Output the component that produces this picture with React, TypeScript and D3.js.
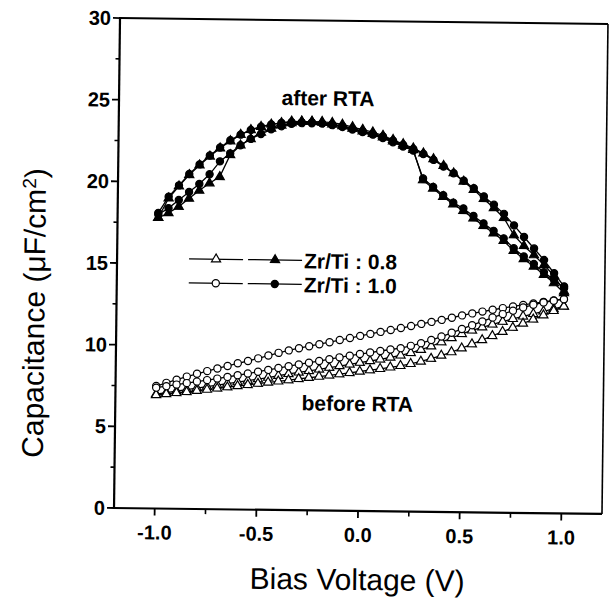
import React from 'react';
import * as d3 from 'd3';

// Bias voltage sweep points (V)
const voltage = [
  -1.0, -0.95, -0.9, -0.85, -0.8, -0.75, -0.7, -0.65, -0.6, -0.55, -0.5,
  -0.45, -0.4, -0.35, -0.3, -0.25, -0.2, -0.15, -0.1, -0.05, 0.0,
  0.05, 0.1, 0.15, 0.2, 0.25, 0.3, 0.35, 0.4, 0.45, 0.5,
  0.55, 0.6, 0.65, 0.7, 0.75, 0.8, 0.85, 0.9, 0.95, 1.0,
];

// before RTA, Zr/Ti 0.8 (open triangles)
const before08A = [
  7.0, 7.1, 7.2, 7.3, 7.4, 7.5, 7.6, 7.7, 7.8, 7.9, 8.0,
  8.1, 8.22, 8.34, 8.44, 8.54, 8.64, 8.75, 8.86, 8.97, 9.08,
  9.19, 9.3, 9.42, 9.56, 9.72, 9.92, 10.14, 10.4, 10.66, 10.92,
  11.14, 11.34, 11.52, 11.7, 11.88, 12.04, 12.2, 12.36, 12.52, 12.68,
];
const before08B = [
  6.95, 7.02, 7.09, 7.16, 7.24, 7.32, 7.4, 7.48, 7.56, 7.64, 7.72,
  7.8, 7.88, 7.96, 8.04, 8.12, 8.2, 8.28, 8.36, 8.45, 8.54,
  8.63, 8.72, 8.82, 8.92, 9.05, 9.2, 9.38, 9.58, 9.8, 10.04,
  10.3, 10.56, 10.82, 11.08, 11.34, 11.6, 11.86, 12.12, 12.4, 12.68,
];
// before RTA, Zr/Ti 1.0 (open circles)
const before10A = [
  7.5, 7.7, 7.9, 8.1, 8.28, 8.45, 8.62, 8.78, 8.95, 9.1, 9.27,
  9.45, 9.62, 9.78, 9.92, 10.05, 10.18, 10.31, 10.45, 10.58, 10.72,
  10.85, 10.98, 11.1, 11.23, 11.36, 11.5, 11.63, 11.76, 11.9, 12.05,
  12.18, 12.3, 12.42, 12.53, 12.64, 12.74, 12.84, 12.94, 13.04, 13.12,
];
const before10B = [
  7.4, 7.5, 7.6, 7.7, 7.8, 7.9, 8.0, 8.11, 8.22, 8.33, 8.45,
  8.57, 8.69, 8.81, 8.93, 9.04, 9.15, 9.27, 9.39, 9.5, 9.61,
  9.71, 9.81, 9.91, 10.0, 10.15, 10.32, 10.52, 10.74, 10.98, 11.22,
  11.46, 11.7, 11.94, 12.16, 12.38, 12.58, 12.76, 12.9, 13.02, 13.12,
];

// after RTA, Zr/Ti 0.8 (filled triangles)
const after08Fwd = [
  17.8, 18.1, 18.5, 19.0, 19.5, 19.95, 20.35, 21.7, 22.3, 22.7, 23.1,
  23.35, 23.55, 23.7, 23.8, 23.8, 23.8, 23.75, 23.65, 23.5, 23.35,
  23.2, 23.0, 22.75, 22.5, 22.25, 21.95, 21.6, 21.2, 20.75, 20.25,
  19.75, 19.2, 18.65, 18.05, 17.0, 16.35, 15.8, 15.2, 14.55, 13.6,
];
const after08Rev = [
  17.8, 19.0, 19.75, 20.45, 21.05, 21.6, 22.1, 22.55, 22.95, 23.25, 23.45,
  23.6, 23.7, 23.8, 23.8, 23.8, 23.75, 23.65, 23.55, 23.4, 23.25,
  23.1, 22.9, 22.65, 22.4, 22.15, 20.3, 19.8, 19.3, 18.85, 18.45,
  18.0, 17.55, 17.1, 16.65, 16.05, 15.55, 15.1, 14.6, 14.1, 13.5,
];
// after RTA, Zr/Ti 1.0 (filled circles)
const after10Fwd = [
  18.0, 18.4, 18.9, 19.4, 19.9, 20.5, 21.3, 21.8, 22.3, 22.7, 23.0,
  23.3, 23.5, 23.65, 23.7, 23.7, 23.7, 23.65, 23.55, 23.4, 23.25,
  23.1, 22.95, 22.7, 22.45, 22.2, 21.9, 21.55, 21.15, 20.75, 20.3,
  19.85, 19.35, 18.85, 18.3, 17.6, 16.9, 16.2, 15.5, 14.7, 13.9,
];
const after10Rev = [
  18.1, 19.1, 19.8, 20.5, 21.1, 21.65, 22.15, 22.6, 22.95, 23.25, 23.45,
  23.6, 23.7, 23.75, 23.75, 23.75, 23.7, 23.6, 23.5, 23.35, 23.2,
  23.05, 22.85, 22.6, 22.35, 22.1, 20.4, 19.9, 19.4, 18.95, 18.6,
  18.15, 17.7, 17.25, 16.8, 16.2, 15.7, 15.25, 14.75, 14.3, 13.8,
];

const xTicks = [-1.0, -0.5, 0.0, 0.5, 1.0];
const xMinorTicks = [-0.75, -0.25, 0.25, 0.75];
const yTicks = [0, 5, 10, 15, 20, 25, 30];
const yMinorTicks = [2.5, 7.5, 12.5, 17.5, 22.5, 27.5];

const W = 610;
const H = 612;
const L = 117, R = 605, T = 21, B = 511;

const x = d3.scaleLinear().domain([-1.2, 1.2]).range([L, R]);
const y = d3.scaleLinear().domain([0, 30]).range([B, T]);

const line = d3.line<[number, number]>().x((d) => x(d[0])).y((d) => y(d[1]));
const triPath = d3.symbol(d3.symbolTriangle, 36)()!;

type Series = { values: number[]; shape: 'tri' | 'circ'; filled: boolean };

const series: Series[] = [
  { values: before08A, shape: 'tri', filled: false },
  { values: before08B, shape: 'tri', filled: false },
  { values: before10A, shape: 'circ', filled: false },
  { values: before10B, shape: 'circ', filled: false },
  { values: after08Fwd, shape: 'tri', filled: true },
  { values: after08Rev, shape: 'tri', filled: true },
  { values: after10Fwd, shape: 'circ', filled: true },
  { values: after10Rev, shape: 'circ', filled: true },
];

function Marker({ cx, cy, shape, filled }: { cx: number; cy: number; shape: 'tri' | 'circ'; filled: boolean }) {
  const fill = filled ? '#000' : '#fff';
  if (shape === 'tri') {
    return <path d={triPath} transform={`translate(${cx},${cy})`} fill={fill} stroke="#000" strokeWidth={1.2} />;
  }
  return <circle cx={cx} cy={cy} r={3.6} fill={fill} stroke="#000" strokeWidth={1.2} />;
}

const font = "'Liberation Sans', Arial, Helvetica, sans-serif";

export default function App() {
  return (
    <svg
      width={W}
      height={H}
      style={{ position: 'absolute', left: 0, top: 0, background: '#fff' }}
      fontFamily={font}
    >
      <rect width={W} height={H} fill="#fff" />
      <g transform={`rotate(0.7, 361, 266)`}>
        {/* frame */}
        <line x1={L} y1={T} x2={R} y2={T} stroke="#000" strokeWidth={2} />
        <line x1={R} y1={T} x2={R} y2={B} stroke="#000" strokeWidth={1.6} />
        <line x1={L} y1={T - 1} x2={L} y2={B + 1} stroke="#000" strokeWidth={2.2} />
        <line x1={L - 1} y1={B} x2={R} y2={B} stroke="#000" strokeWidth={2.2} />

        {/* y ticks */}
        {yTicks.map((t) => (
          <g key={'y' + t}>
            <line x1={L - 7} x2={L} y1={y(t)} y2={y(t)} stroke="#000" strokeWidth={1.8} />
            <text x={L - 9} y={y(t) + 7} textAnchor="end" fontSize={20} fontWeight="bold">
              {t}
            </text>
          </g>
        ))}
        {yMinorTicks.map((t) => (
          <line key={'ym' + t} x1={L - 4} x2={L} y1={y(t)} y2={y(t)} stroke="#000" strokeWidth={1.6} />
        ))}

        {/* x ticks */}
        {xTicks.map((t) => (
          <g key={'x' + t}>
            <line x1={x(t)} x2={x(t)} y1={B} y2={B + 7} stroke="#000" strokeWidth={1.8} />
            <text x={x(t)} y={B + 31} textAnchor="middle" fontSize={20} fontWeight="bold">
              {d3.format('.1f')(t).replace('−', '-')}
            </text>
          </g>
        ))}
        {xMinorTicks.map((t) => (
          <line key={'xm' + t} x1={x(t)} x2={x(t)} y1={B} y2={B + 5} stroke="#000" strokeWidth={1.6} />
        ))}

        {/* data */}
        {series.map((s, i) => {
          const pts = voltage.map((v, j) => [v, s.values[j]] as [number, number]);
          return (
            <g key={'s' + i}>
              <path d={line(pts)!} fill="none" stroke="#000" strokeWidth={1.3} />
              {pts.map((p, j) => (
                <Marker key={j} cx={x(p[0])} cy={y(p[1])} shape={s.shape} filled={s.filled} />
              ))}
            </g>
          );
        })}

        {/* annotations */}
        <text x={326} y={106} textAnchor="middle" fontSize={21} fontWeight="bold">after RTA</text>
        <text x={359} y={411} textAnchor="middle" fontSize={21} fontWeight="bold">before RTA</text>

        {/* legend */}
        {[
          { yy: 261, shape: 'tri' as const, label: 'Zr/Ti : 0.8' },
          { yy: 285, shape: 'circ' as const, label: 'Zr/Ti : 1.0' },
        ].map((r) => (
          <g key={r.label}>
            <line x1={189} x2={243} y1={r.yy} y2={r.yy} stroke="#000" strokeWidth={1.3} />
            <Marker cx={216} cy={r.yy} shape={r.shape} filled={false} />
            <line x1={248} x2={302} y1={r.yy} y2={r.yy} stroke="#000" strokeWidth={1.3} />
            <Marker cx={275} cy={r.yy} shape={r.shape} filled={true} />
            <text x={304} y={r.yy + 8} fontSize={21} fontWeight="bold">{r.label}</text>
          </g>
        ))}

        {/* axis titles */}
        <text x={361} y={590} textAnchor="middle" fontSize={30}>Bias Voltage (V)</text>
        <text transform="translate(45, 317) rotate(-90)" textAnchor="middle" fontSize={30}>
          Capacitance (μF/cm<tspan dy={-10} fontSize={19}>2</tspan><tspan dy={10}>)</tspan>
        </text>
      </g>
    </svg>
  );
}
